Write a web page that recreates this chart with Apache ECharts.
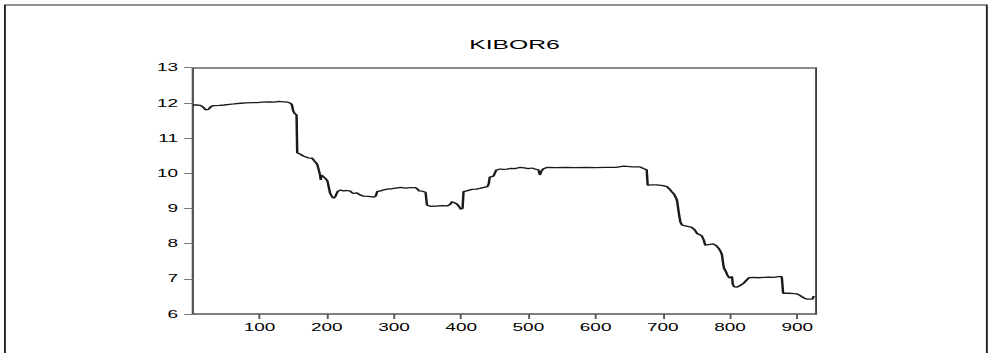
<!DOCTYPE html>
<html>
<head>
<meta charset="utf-8">
<script src="https://cdn.jsdelivr.net/npm/echarts@6/dist/echarts.min.js"></script>
<style>
  html, body { margin: 0; padding: 0; background: #fff; overflow: hidden; }
  #wrap { width: 988px; height: 353px; overflow: hidden; }
  #chart { width: 520px; height: 353px; transform: scaleX(1.9); transform-origin: 0 0; }
</style>
</head>
<body>
<div id="wrap"><div id="chart"></div></div>
<script>
var title = 'KIBOR6';
var xTickValues = [100, 200, 300, 400, 500, 600, 700, 800, 900];
var yTickValues = [6, 7, 8, 9, 10, 11, 12, 13];
var obs = [1,6,12,16,20,24,28,32,40,47,55,62,72,80,90,96,105,115,122,129,136,142,146,148,150,152,155,156,160,165,168,172,178,181,184,186,188,190,191,192,194,198,201,203,205,208,210.5,213,216,220,225,230,235,238,240,245,250,255,262,270,273,275,280,285,290,297,303,310,317,323,332,335,337,342,347,349,354,365,372,379,384,386,390,394,397,399,402,403.5,408,412,416,422,428,434,439,441,442.5,448,450,452,458,463,468,474,480,488,494,500,505,510,515,517,519,522,528,540,555,570,585,600,615,630,642,655,666,672,676,677.5,685,691,700,706,710,713,717,721,724,726,728.5,735,743,747,751,755,758,761,763,770,775,779,783,786,788,790,791,794,796,799,801,803,804,806,810,815,820,825,828,835,842,850,858,865,872,877,879,888,895,900,904,907,911,915,920,923,924,926];
var kibor6 = [11.94,11.94,11.93,11.88,11.80,11.82,11.90,11.92,11.93,11.94,11.96,11.97,11.99,12.00,12.01,12.01,12.02,12.03,12.02,12.04,12.03,12.02,11.99,11.95,11.78,11.70,11.66,10.58,10.55,10.49,10.47,10.44,10.43,10.36,10.30,10.24,10.10,9.95,9.81,9.95,9.92,9.85,9.78,9.60,9.43,9.33,9.29,9.35,9.48,9.52,9.50,9.51,9.49,9.44,9.43,9.44,9.38,9.35,9.34,9.32,9.36,9.48,9.50,9.53,9.55,9.56,9.58,9.60,9.58,9.59,9.59,9.55,9.50,9.49,9.46,9.10,9.06,9.07,9.08,9.07,9.12,9.19,9.16,9.12,9.05,8.98,9.00,9.48,9.50,9.52,9.54,9.55,9.57,9.60,9.62,9.70,9.89,9.92,10.00,10.09,10.12,10.11,10.12,10.14,10.13,10.17,10.15,10.13,10.15,10.12,10.10,9.95,10.05,10.12,10.17,10.16,10.17,10.16,10.17,10.16,10.17,10.17,10.20,10.18,10.18,10.13,10.10,9.66,9.67,9.67,9.65,9.62,9.55,9.48,9.40,9.24,8.85,8.62,8.53,8.50,8.46,8.40,8.29,8.25,8.22,8.10,7.96,7.98,7.99,7.95,7.87,7.78,7.68,7.40,7.30,7.20,7.11,7.02,7.05,7.06,6.85,6.78,6.76,6.81,6.87,6.97,7.03,7.04,7.03,7.04,7.05,7.04,7.06,7.06,6.59,6.59,6.58,6.57,6.53,6.49,6.45,6.42,6.42,6.43,6.50,6.48];

var seriesData = obs.map(function (o, i) { return [o, kibor6[i]]; });
var FONT = '"Liberation Sans", Arial, sans-serif';

var chart = echarts.init(document.getElementById('chart'), null, { renderer: 'svg' });
chart.setOption({
  animation: false,
  backgroundColor: '#fff',
  title: {
    text: title,
    left: 265.8,
    top: 33,
    textAlign: 'center',
    textStyle: { fontFamily: FONT, fontSize: 13, fontWeight: 'normal', color: '#000' }
  },
  graphic: [{
    type: 'rect',
    shape: { x: 2.6, y: 5, width: 516.8, height: 370 },
    style: { fill: 'none', stroke: '#222', lineWidth: 1 },
    silent: true
  }],
  grid: { left: 101.6, right: 90.5, top: 67.7, bottom: 39 },
  xAxis: [{
    type: 'value', min: 1, max: 928,
    axisLine: { show: true, lineStyle: { color: '#555', width: 1.5 } },
    axisTick: { show: true, customValues: xTickValues, length: 5, lineStyle: { color: '#555', width: 1 } },
    axisLabel: { customValues: xTickValues, margin: 8, color: '#000', fontFamily: FONT, fontSize: 10 },
    splitLine: { show: false }
  }, {
    type: 'value', min: 1, max: 928, position: 'top',
    axisLine: { show: true, onZero: false, lineStyle: { color: '#666', width: 1.5 } },
    axisTick: { show: false }, axisLabel: { show: false }, splitLine: { show: false }
  }],
  yAxis: [{
    type: 'value', min: 6, max: 13, interval: 1,
    axisLine: { show: true, lineStyle: { color: '#555', width: 1.2 } },
    axisTick: { show: true, length: 4.7, lineStyle: { color: '#777', width: 1 } },
    axisLabel: { margin: 7.9, color: '#000', fontFamily: FONT, fontSize: 10 },
    splitLine: { show: false }
  }, {
    type: 'value', min: 6, max: 13, position: 'right',
    axisLine: { show: true, onZero: false, lineStyle: { color: '#111', width: 0.8 } },
    axisTick: { show: false }, axisLabel: { show: false }, splitLine: { show: false }
  }],
  series: [{
    type: 'line',
    data: seriesData,
    xAxisIndex: 0, yAxisIndex: 0,
    symbol: 'none', showSymbol: false,
    lineStyle: { color: '#1a1a1a', width: 1.3 }
  }]
});
</script>
</body>
</html>
